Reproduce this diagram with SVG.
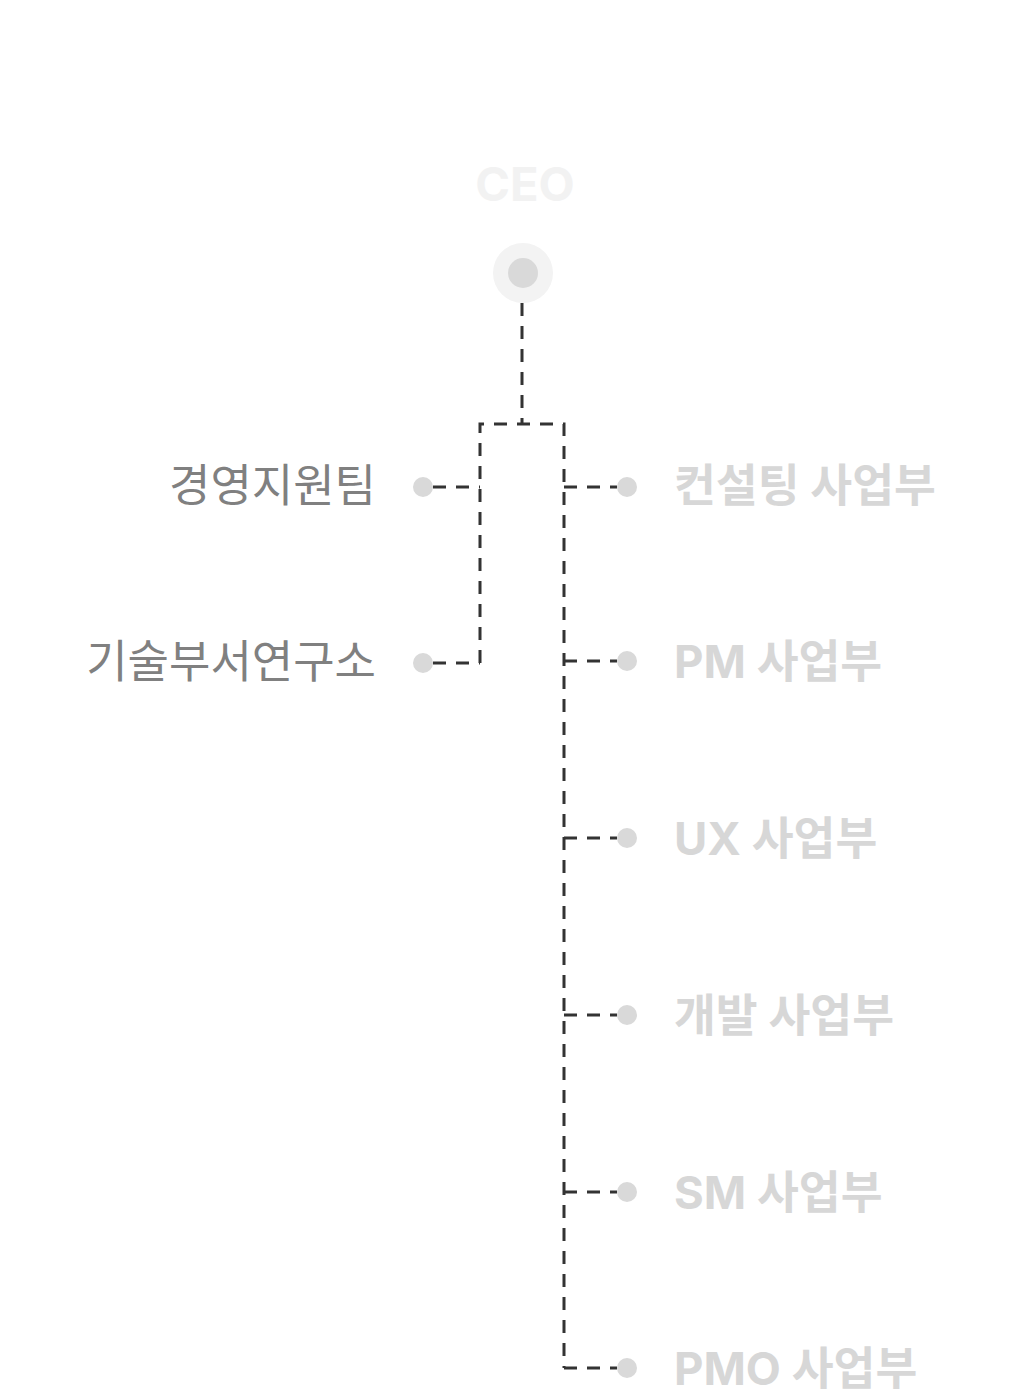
<svg xmlns="http://www.w3.org/2000/svg" width="1020" height="1398" viewBox="0 0 1020 1398">
<style>
text{font-family:Inter,"Noto Sans CJK KR","Noto Sans",sans-serif;}
.ceo{font-size:47px;font-weight:700;fill:#f2f2f2;text-anchor:middle;}
.l{font-size:45px;font-weight:400;fill:#808080;text-anchor:end;}
.r{font-size:45.5px;font-weight:700;fill:#d7d7d7;}
.dot{fill:#d9d9d9;}
.c{fill:none;stroke:#333;stroke-width:3;stroke-dasharray:13 10;}
</style>
<rect width="1020" height="1398" fill="#fff"/>
<g id="connectors">
<path class="c" d="M522 303 V424"/>
<path class="c" d="M480 663 V424 H564 V1368"/>
<path class="c" d="M433 487 H480"/>
<path class="c" d="M433 663 H480"/>
<path class="c" d="M564 487 H617"/>
<path class="c" d="M564 661 H617"/>
<path class="c" d="M564 838 H617"/>
<path class="c" d="M564 1015 H617"/>
<path class="c" d="M564 1192 H617"/>
<path class="c" d="M564 1368 H617"/>
</g>
<g id="ceo">
<text class="ceo" x="525" y="201">CEO</text>
<circle cx="523" cy="273" r="30" fill="#f3f3f3"/>
<circle cx="523" cy="273" r="15" fill="#d9d9d9"/>
</g>
<g id="mgmt"><circle class="dot" cx="423" cy="487" r="10"/><text class="l" x="376" y="502">경영지원팀</text></g>
<g id="lab"><circle class="dot" cx="423" cy="663" r="10"/><text class="l" x="376" y="678">기술부서연구소</text></g>
<g id="consulting"><circle class="dot" cx="627" cy="487" r="10"/><text class="r" x="674" y="502">컨설팅 사업부</text></g>
<g id="pm"><circle class="dot" cx="627" cy="661" r="10"/><text class="r" x="674" y="678">PM 사업부</text></g>
<g id="ux"><circle class="dot" cx="627" cy="838" r="10"/><text class="r" x="674" y="855">UX 사업부</text></g>
<g id="dev"><circle class="dot" cx="627" cy="1015" r="10"/><text class="r" x="674" y="1032">개발 사업부</text></g>
<g id="sm"><circle class="dot" cx="627" cy="1192" r="10"/><text class="r" x="674" y="1209">SM 사업부</text></g>
<g id="pmo"><circle class="dot" cx="627" cy="1368" r="10"/><text class="r" x="674" y="1385">PMO 사업부</text></g>
</svg>
